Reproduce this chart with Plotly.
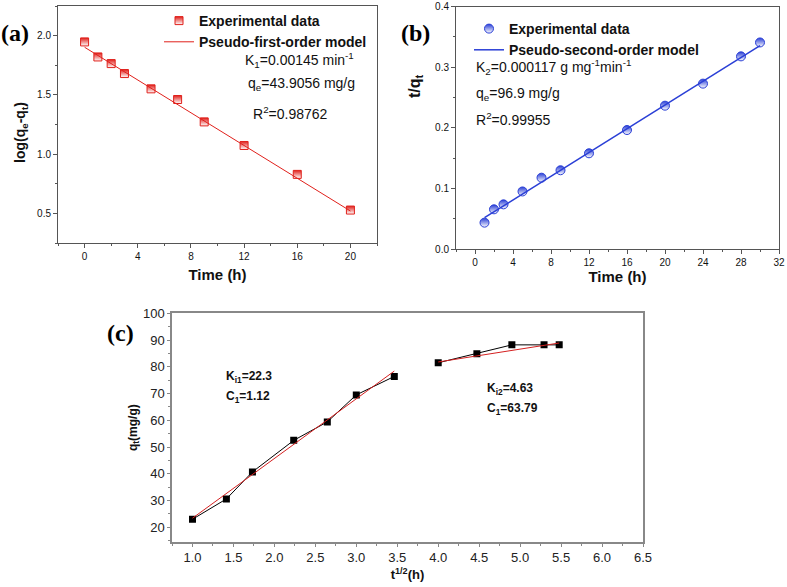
import plotly.graph_objects as go

# ---- data (a) pseudo-first-order ----
t_a = [0, 1, 2, 3, 5, 7, 9, 12, 16, 20]
log_qe_qt = [1.947, 1.82, 1.764, 1.68, 1.551, 1.461, 1.272, 1.073, 0.829, 0.528]
fit_a_x = [0, 20]
fit_a_y = [1.902, 0.52]

# ---- data (b) pseudo-second-order ----
t_b = [1, 2, 3, 5, 7, 9, 12, 16, 20, 24, 28, 30]
t_over_qt = [0.0435, 0.0655, 0.0737, 0.095, 0.1177, 0.130, 0.158, 0.1964, 0.2366, 0.273, 0.318, 0.341]
fit_b_x = [1, 30]
fit_b_y = [0.0517, 0.3356]

# ---- data (c) intraparticle diffusion ----
sqrt_t1 = [1.0, 1.414, 1.732, 2.236, 2.646, 3.0, 3.464]
qt1 = [23.0, 30.6, 40.7, 52.5, 59.4, 69.5, 76.4]
sqrt_t2 = [4.0, 4.472, 4.899, 5.292, 5.477]
qt2 = [81.5, 84.9, 88.2, 88.2, 88.2]
fit1_x = [1.0, 3.464]
fit1_y = [23.4, 78.4]
fit2_x = [4.0, 5.477]
fit2_y = [81.8, 88.9]

W, H = 787, 587
def px(x):
    return x / W
def py(y):
    return 1 - y / H

RED = "#e0201b"
BLUE = "#2a3fd6"
AX = "#555555"
SANS = "Liberation Sans, Arial"
bold_font = dict(family=SANS, size=10, color="#111")

fig = go.Figure()

# (a)
fig.add_trace(go.Scatter(x=t_a, y=log_qe_qt, mode="markers", name="<b>Experimental data</b>",
                         marker=dict(symbol="square", size=8, color=RED,
                                     gradient=dict(type="vertical", color="white"),
                                     line=dict(color=RED, width=1)),
                         xaxis="x", yaxis="y", legend="legend"))
fig.add_trace(go.Scatter(x=fit_a_x, y=fit_a_y, mode="lines", name="<b>Pseudo-first-order model</b>",
                         line=dict(color=RED, width=1), xaxis="x", yaxis="y", legend="legend"))
# (b)
fig.add_trace(go.Scatter(x=t_b, y=t_over_qt, mode="markers", name="<b>Experimental data</b>",
                         marker=dict(symbol="circle", size=9, color=BLUE,
                                     gradient=dict(type="vertical", color="white"),
                                     line=dict(color=BLUE, width=1)),
                         xaxis="x2", yaxis="y2", legend="legend2"))
fig.add_trace(go.Scatter(x=fit_b_x, y=fit_b_y, mode="lines", name="<b>Pseudo-second-order model</b>",
                         line=dict(color=BLUE, width=1.5), xaxis="x2", yaxis="y2", legend="legend2"))
# (c)
for xs, ys in [(sqrt_t1, qt1), (sqrt_t2, qt2)]:
    fig.add_trace(go.Scatter(x=xs, y=ys, mode="lines+markers", showlegend=False,
                             marker=dict(symbol="square", size=7, color="black"),
                             line=dict(color="black", width=1), xaxis="x3", yaxis="y3"))
for xs, ys in [(fit1_x, fit1_y), (fit2_x, fit2_y)]:
    fig.add_trace(go.Scatter(x=xs, y=ys, mode="lines", showlegend=False,
                             line=dict(color="#d42020", width=1), xaxis="x3", yaxis="y3"))

common_ab = dict(showline=True, linecolor=AX, linewidth=1, mirror=True, ticks="outside",
                 ticklen=4, tickcolor=AX, showgrid=False, zeroline=False,
                 tickfont=bold_font)

fig.update_layout(
    width=W, height=H, margin=dict(l=0, r=0, t=0, b=0, autoexpand=False),
    plot_bgcolor="white", paper_bgcolor="white",
    xaxis=dict(domain=[px(58), px(377)], range=[-2, 22], dtick=4, tick0=0,
               minor=dict(dtick=2, ticks="outside", ticklen=2, tickcolor=AX),
               title=dict(text="<b>Time (h)</b>", font=dict(family=SANS, size=15, color="#111"), standoff=8),
               anchor="y", **common_ab),
    yaxis=dict(domain=[py(243), py(6)], range=[0.25, 2.25], dtick=0.5, tick0=0, tickformat=".1f",
               minor=dict(dtick=0.25, ticks="outside", ticklen=2, tickcolor=AX),
               anchor="x", **common_ab),
    xaxis2=dict(domain=[px(456), px(779)], range=[-2, 32], dtick=4, tick0=0,
                minor=dict(dtick=2, ticks="outside", ticklen=2, tickcolor=AX),
                title=dict(text="<b>Time (h)</b>", font=dict(family=SANS, size=15, color="#111"), standoff=4),
                ticklabeloverflow="allow",
                anchor="y2", **common_ab),
    yaxis2=dict(domain=[py(249), py(6.7)], range=[0, 0.4], dtick=0.1, tick0=0, tickformat=".1f",
                minor=dict(dtick=0.05, ticks="outside", ticklen=2, tickcolor=AX),
                anchor="x2", **common_ab),
    xaxis3=dict(domain=[px(172), px(643)], range=[0.75, 6.5], dtick=0.5, tick0=0, tickformat=".1f",
                showline=True, linecolor="#888", linewidth=1.5, mirror=True, ticks="outside",
                ticklen=3, tickcolor="#888", showgrid=False, zeroline=False,
                minor=dict(dtick=0.25, ticks="outside", ticklen=2, tickcolor="#888"),
                tickfont=dict(family=SANS, size=13, color="#222"),
                title=dict(text="<b>t<sup>1/2</sup>(h)</b>", font=dict(family=SANS, size=13, color="#111"), standoff=6),
                anchor="y3"),
    yaxis3=dict(domain=[py(542), py(313.3)], range=[14.5, 100], dtick=10, tick0=0,
                showline=True, linecolor="#888", linewidth=1.5, mirror=True, ticks="outside",
                ticklen=3, tickcolor="#888", showgrid=False, zeroline=False,
                minor=dict(dtick=5, ticks="outside", ticklen=2, tickcolor="#888"),
                tickfont=dict(family=SANS, size=13, color="#222"),
                title=dict(text="<b>q<sub>t</sub>(mg/g)</b>", font=dict(family=SANS, size=12, color="#111"), standoff=3),
                anchor="x3"),
    legend=dict(x=px(159), y=py(5), xanchor="left", yanchor="top", bgcolor="rgba(0,0,0,0)",
                font=dict(family=SANS, size=14, color="#111"), tracegroupgap=0),
    legend2=dict(x=px(469), y=py(13), xanchor="left", yanchor="top", bgcolor="rgba(0,0,0,0)",
                 font=dict(family=SANS, size=14, color="#111"), tracegroupgap=0),
)

ann_font = dict(family=SANS, size=14, color="#111")
c_font = dict(family=SANS, size=12, color="#111")
serif = dict(family="Liberation Serif, Times New Roman", size=24, color="black")
annotations = [
    # panel labels
    dict(x=px(15), y=py(33), text="<b>(a)</b>", font=serif),
    dict(x=px(415), y=py(33), text="<b>(b)</b>", font=serif),
    dict(x=px(121), y=py(333), text="<b>(c)</b>", font=serif),
    # y axis titles of (a) and (b)
    dict(x=px(21), y=py(133), text="<b>log(q<sub>e</sub>-q<sub>t</sub>)</b>", textangle=-90,
         font=dict(family=SANS, size=14, color="#111")),
    dict(x=px(415), y=py(86), text="<b>t/q<sub>t</sub></b>", textangle=-90,
         font=dict(family=SANS, size=16, color="#111")),
    # (a) parameters
    dict(x=px(243), y=py(60), text="K<sub>1</sub>=0.00145 min<sup>-1</sup>", xanchor="left", font=ann_font),
    dict(x=px(246), y=py(84), text="q<sub>e</sub>=43.9056 mg/g", xanchor="left", font=ann_font),
    dict(x=px(251), y=py(113), text="R<sup>2</sup>=0.98762", xanchor="left", font=ann_font),
    # (b) parameters
    dict(x=px(474), y=py(67), text="K<sub>2</sub>=0.000117 g mg<sup>-1</sup>min<sup>-1</sup>", xanchor="left", font=ann_font),
    dict(x=px(474), y=py(94), text="q<sub>e</sub>=96.9 mg/g", xanchor="left", font=ann_font),
    dict(x=px(474), y=py(119), text="R<sup>2</sup>=0.99955", xanchor="left", font=ann_font),
    # (c) parameters
    dict(x=px(224), y=py(377), text="<b>K<sub>i1</sub>=22.3</b>", xanchor="left", font=c_font),
    dict(x=px(224), y=py(397), text="<b>C<sub>1</sub>=1.12</b>", xanchor="left", font=c_font),
    dict(x=px(485), y=py(389), text="<b>K<sub>i2</sub>=4.63</b>", xanchor="left", font=c_font),
    dict(x=px(485), y=py(409), text="<b>C<sub>1</sub>=63.79</b>", xanchor="left", font=c_font),
]
for a in annotations:
    a.update(xref="paper", yref="paper", showarrow=False, yanchor="middle")
    a.setdefault("xanchor", "center")
fig.update_layout(annotations=annotations)

# remove the browser's default 8px page margin so the figure sits at the window origin
fig.write_html("out.html", config={"displayModeBar": False},
               post_script="document.body.style.margin='0px';")
